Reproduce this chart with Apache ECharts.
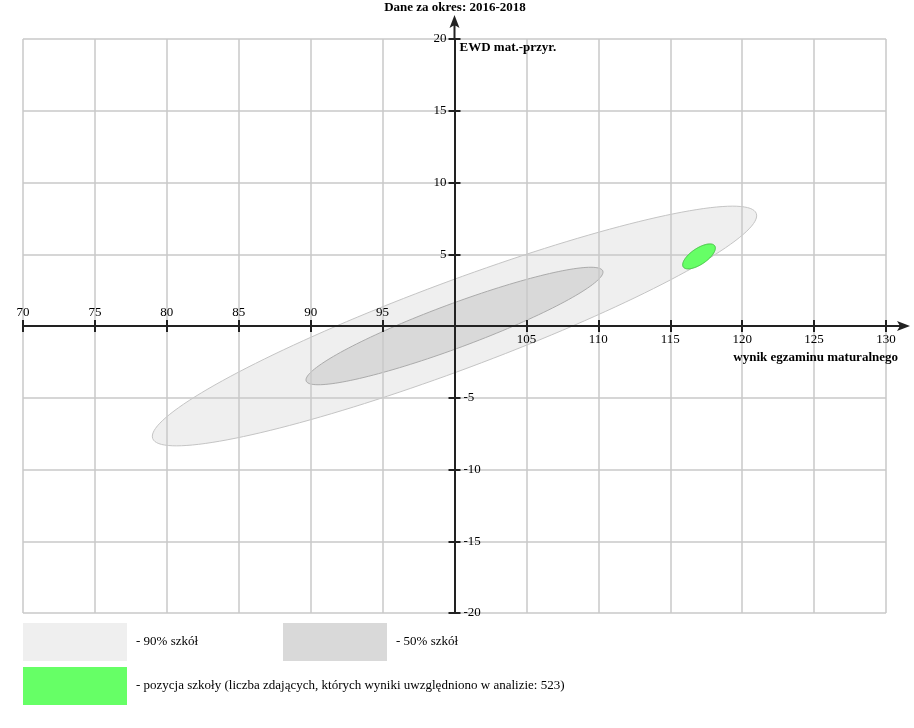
<!DOCTYPE html>
<html>
<head>
<meta charset="utf-8">
<title>EWD</title>
<script src="https://cdn.jsdelivr.net/npm/echarts@6/dist/echarts.min.js"></script>
<style>
  html, body { margin: 0; padding: 0; background: #fff; }
  #chart { width: 914px; height: 728px; }
</style>
</head>
<body>
<div id="chart"></div>
<script>
// dane
const periodLabel = 'Dane za okres: 2016-2018';
const xName = 'wynik egzaminu maturalnego';
const yName = 'EWD mat.-przyr.';
const xMin = 70, xMax = 130, xStep = 5, xCross = 100;
const yMin = -20, yMax = 20, yStep = 5, yCross = 0;

const seriesNames = [
  '90% szkół',
  '50% szkół',
  'pozycja szkoły (liczba zdających, których wyniki uwzględniono w analizie: 523)'
];
// elipsy: środek, półosie (w jednostkach osi), nachylenie
const centerX = [100, 100, 117.0];
const centerY = [0, 0, 4.85];
const semiMajor = [22.4, 11.0, 1.32];
const semiMinor = [3.06, 1.53, 0.56];
const tiltDeg = [20.5, 20.4, 34];

// wygląd
const serif = 'Liberation Serif';
const fills = ['#efefef', '#d9d9d9', '#66ff66'];
const strokes = ['#c4c4c4', '#ababab', '#3fc03f'];
// warstwy: szare elipsy pod siatką, siatka, osie, zielona elipsa na wierzchu
const layers = [-1, -1, 2];
const gridColor = '#c8c8c8';
const grid = { left: 23, top: 39, width: 863, height: 574 };

const yAxisShift = grid.width * (xCross - xMin) / (xMax - xMin);
const xAxisShift = grid.height * (yMax - yCross) / (yMax - yMin);

const arrowPath = 'path://M5 0 L10 13 L5 10 L0 13 Z M4 10 L6 10 L6 24 L4 24 Z';
const axisColor = '#222';

const chart = echarts.init(document.getElementById('chart'));

function ellipseRenderer(i) {
  return function (params, api) {
    const phi = tiltDeg[i] * Math.PI / 180;
    const pts = [];
    for (let k = 0; k < 160; k++) {
      const t = 2 * Math.PI * k / 160;
      const u = semiMajor[i] * Math.cos(t);
      const v = semiMinor[i] * Math.sin(t);
      pts.push(api.coord([
        centerX[i] + u * Math.cos(phi) - v * Math.sin(phi),
        centerY[i] + u * Math.sin(phi) + v * Math.cos(phi)
      ]));
    }
    return {
      type: 'polygon',
      shape: { points: pts },
      style: { fill: fills[i], stroke: strokes[i], lineWidth: 1 }
    };
  };
}

const labelStyle = { fontFamily: serif, fontSize: 13, color: '#000' };
const tickStyle = { show: true, length: 6, lineStyle: { color: axisColor, width: 2 } };
const hidden = { axisLine: { show: false, onZero: false }, axisTick: { show: false }, axisLabel: { show: false } };

function legendAt(left, top, i) {
  return {
    left: left, top: top, padding: 0,
    data: [{ name: seriesNames[i], itemStyle: { color: fills[i], borderWidth: 0 } }],
    icon: 'rect', itemWidth: 104, itemHeight: 38,
    selectedMode: false,
    formatter: '- {name}',
    textStyle: { fontFamily: serif, fontSize: 13, color: '#000', padding: [0, 0, 0, 4] }
  };
}

chart.setOption({
  animation: false,
  title: {
    text: periodLabel,
    left: 455, top: 1, padding: 0,
    textAlign: 'center',
    textStyle: { fontFamily: serif, fontSize: 13, fontWeight: 'bold', color: '#000' }
  },
  legend: [legendAt(23, 623, 0), legendAt(283, 623, 1), legendAt(23, 667, 2)],
  grid: grid,
  xAxis: [
    Object.assign({
      type: 'value', position: 'bottom', min: xMin, max: xMax, interval: xStep,
      splitLine: { show: true, lineStyle: { color: gridColor, width: 1.5 } },
      zlevel: 0, z: 1
    }, hidden),
    {
      type: 'value', position: 'bottom', min: xMin, max: xMax, interval: xStep,
      offset: -xAxisShift,
      axisLine: { show: true, onZero: false, symbol: ['none', arrowPath], symbolSize: [11, 24], symbolOffset: [0, 12],
        lineStyle: { color: axisColor, width: 2 } },
      axisTick: tickStyle,
      axisLabel: Object.assign({ margin: 7, formatter: v => (v > xCross ? String(v) : '') }, labelStyle),
      splitLine: { show: false },
      name: xName, nameLocation: 'end', nameGap: 12,
      nameTextStyle: { fontFamily: serif, fontSize: 13, fontWeight: 'bold', color: '#000',
        align: 'right', verticalAlign: 'top', padding: [25, 0, 0, 0] },
      zlevel: 1
    },
    {
      type: 'value', position: 'top', min: xMin, max: xMax, interval: xStep,
      offset: -(grid.height - xAxisShift),
      axisLine: { show: false, onZero: false },
      axisTick: tickStyle,
      axisLabel: Object.assign({ margin: 7, formatter: v => (v < xCross ? String(v) : '') }, labelStyle),
      splitLine: { show: false },
      zlevel: 1
    }
  ],
  yAxis: [
    Object.assign({
      type: 'value', position: 'left', min: yMin, max: yMax, interval: yStep,
      splitLine: { show: true, lineStyle: { color: gridColor, width: 1.5 } },
      zlevel: 0, z: 1
    }, hidden),
    {
      type: 'value', position: 'left', min: yMin, max: yMax, interval: yStep,
      offset: -yAxisShift,
      axisLine: { show: true, onZero: false, symbol: ['none', arrowPath], symbolSize: [11, 24], symbolOffset: [0, 12],
        lineStyle: { color: axisColor, width: 2 } },
      axisTick: tickStyle,
      axisLabel: Object.assign({ margin: 8, formatter: v => (v > yCross ? String(v) : '') }, labelStyle),
      splitLine: { show: false },
      name: yName, nameLocation: 'end', nameGap: -9,
      nameTextStyle: { fontFamily: serif, fontSize: 13, fontWeight: 'bold', color: '#000',
        align: 'left', verticalAlign: 'middle', padding: [0, 0, 0, 5] },
      zlevel: 1
    },
    {
      type: 'value', position: 'right', min: yMin, max: yMax, interval: yStep,
      offset: -(grid.width - yAxisShift),
      axisLine: { show: false, onZero: false },
      axisTick: tickStyle,
      axisLabel: Object.assign({ margin: 9, formatter: v => (v < yCross ? String(v) : '') }, labelStyle),
      splitLine: { show: false },
      zlevel: 1
    }
  ],
  series: seriesNames.map((name, i) => ({
    name: name,
    type: 'custom',
    xAxisIndex: 0, yAxisIndex: 0,
    zlevel: layers[i],
    z: i + 1,
    itemStyle: { color: fills[i] },
    encode: { x: 0, y: 1 },
    data: [[centerX[i], centerY[i]]],
    renderItem: ellipseRenderer(i)
  }))
});
</script>
</body>
</html>
